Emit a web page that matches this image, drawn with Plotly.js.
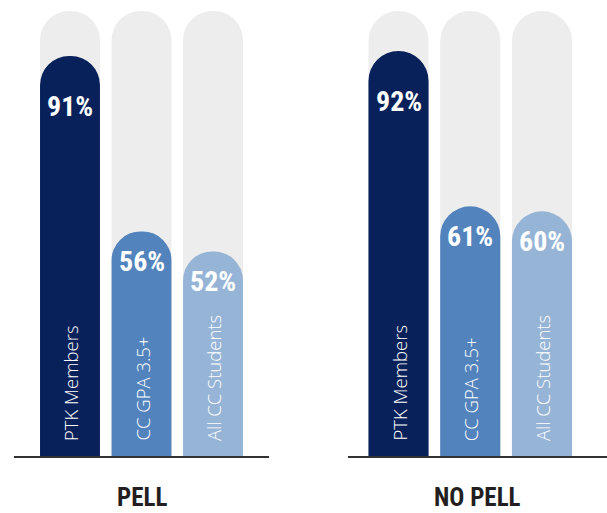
<!DOCTYPE html>
<html>
<head>
<meta charset="utf-8">
<script src="https://cdn.plot.ly/plotly-3.0.1.min.js"></script>
<style>html,body{margin:0;padding:0;background:#fff;}#chart{width:607px;height:513px;}</style>
</head>
<body>
<div id="chart"></div>
<script>
// ---- data ----
const groups = ['PELL', 'NO PELL'];
const categories = ['PTK Members', 'CC GPA 3.5+', 'All CC Students'];
const pellValues = [91, 56, 52];
const noPellValues = [92, 61, 60];
const fullValue = 100;

// ---- styles ----
const barColors = ['#08215A', '#5283BC', '#96B4D6'];
const trackColor = '#EDEDED';
const pctFont = {family: '"Roboto Condensed", sans-serif', size: 28, color: '#ffffff', weight: 700};
const catFont = {family: '"Open Sans", sans-serif', size: 18.5, color: '#ffffff', weight: 300};
const grpFont = {family: '"Roboto Condensed", sans-serif', size: 25, color: '#231F20', weight: 700};
const yMin = 11.16;
const barWidth = 0.838;

const seriesByGroup = [pellValues, noPellValues];
const axes = ['x', 'x2'];
const xs = categories.map((c, i) => i);

const traces = [];
const annotations = [];
seriesByGroup.forEach((vals, g) => {
  const xa = axes[g];
  // grey track (full 100%) on the base y axis
  traces.push({
    type: 'bar', x: xs, y: categories.map(() => fullValue), xaxis: xa, yaxis: 'y',
    width: barWidth, marker: {color: trackColor, cornerradius: '50%', line: {width: 0}},
    hoverinfo: 'skip', showlegend: false
  });
  // value bars on an overlaying y axis so each set gets its own rounded tops
  traces.push({
    type: 'bar', x: xs, y: vals, xaxis: xa, yaxis: 'y2', name: groups[g],
    customdata: categories, width: barWidth,
    marker: {color: barColors, cornerradius: '50%', line: {width: 0}},
    hovertemplate: '%{customdata}: %{y}%<extra>' + groups[g] + '</extra>', showlegend: false
  });
  vals.forEach((v, i) => {
    annotations.push({
      xref: xa, yref: 'y', x: i, y: v, text: v + '%', showarrow: false,
      xanchor: 'center', yanchor: 'top', yshift: v > 80 ? -32 : -12, font: pctFont
    });
    annotations.push({
      xref: xa, yref: 'y', x: i, y: yMin, text: categories[i], showarrow: false,
      textangle: -90, xanchor: 'center', yanchor: 'bottom', yshift: 13, font: catFont
    });
  });
  annotations.push({
    xref: xa + ' domain', yref: 'paper', x: 0.5, y: -0.094, text: groups[g], showarrow: false,
    xanchor: 'center', yanchor: 'middle', font: grpFont
  });
});

const axisCommon = {
  type: 'linear', showticklabels: false, ticks: '', showgrid: false, zeroline: false,
  showline: true, linecolor: '#333333', linewidth: 1.5, fixedrange: true
};

const layout = {
  width: 607, height: 513,
  margin: {l: 0, r: 0, t: 11, b: 57, pad: 0},
  paper_bgcolor: '#ffffff', plot_bgcolor: 'rgba(0,0,0,0)',
  barmode: 'overlay', showlegend: false,
  xaxis: Object.assign({}, axisCommon, {domain: [14/607, 269/607], range: [-0.783, 2.783], anchor: 'y'}),
  xaxis2: Object.assign({}, axisCommon, {domain: [348/607, 1], range: [-0.704, 2.906], anchor: 'y'}),
  yaxis: {range: [yMin, fullValue], visible: false, fixedrange: true},
  yaxis2: {range: [yMin, fullValue], visible: false, fixedrange: true, overlaying: 'y'},
  annotations: annotations
};

Plotly.newPlot('chart', traces, layout, {displayModeBar: false});
</script>
</body>
</html>
